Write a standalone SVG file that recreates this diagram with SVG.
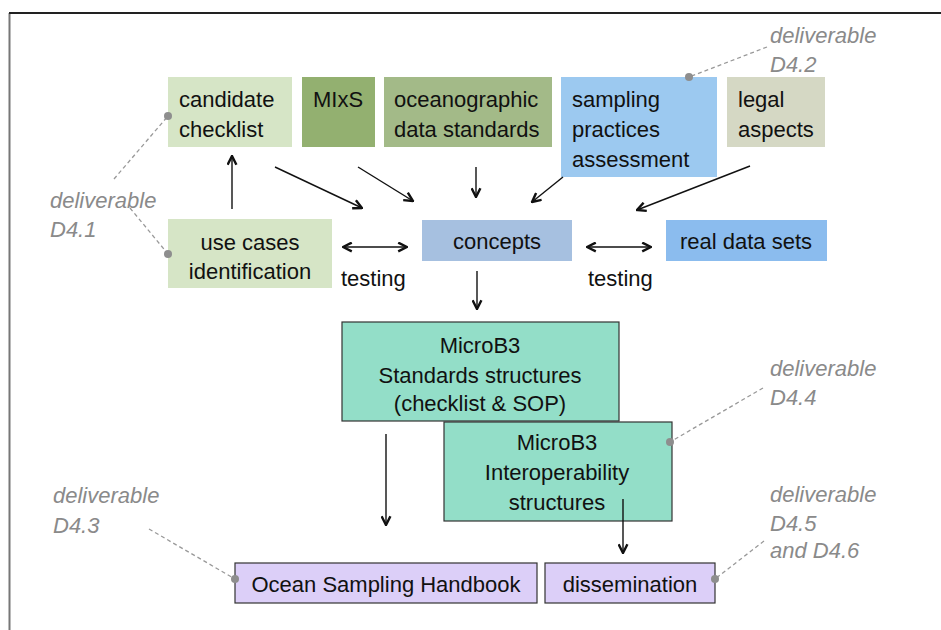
<svg xmlns="http://www.w3.org/2000/svg" width="941" height="630" viewBox="0 0 941 630">
<style>
.t{font-family:"Liberation Sans",Arial,sans-serif;font-size:22px;fill:#111}
.c{text-anchor:middle}
.d{font-family:"Liberation Sans",Arial,sans-serif;font-size:22px;font-style:italic;fill:#8a8a8a}
.e{stroke:#111;stroke-width:1.4;fill:none;marker-end:url(#ah)}
.b{stroke:#111;stroke-width:1.4;fill:none;marker-end:url(#ah);marker-start:url(#ah)}
.l{stroke:#999;stroke-width:1.3;stroke-dasharray:4 3;fill:none}
.dot{fill:#8e8e8e}
.bx{stroke:#333;stroke-width:1.2}
</style>
<defs>
<marker id="ah" viewBox="0 0 10 10" refX="9" refY="5" markerWidth="11" markerHeight="11" markerUnits="userSpaceOnUse" orient="auto-start-reverse">
<path d="M1,1 L9,5 L1,9" fill="none" stroke="#111" stroke-width="2.2"/>
</marker>
</defs>
<rect width="941" height="630" fill="#fff"/>
<path d="M9.5,630 V13" stroke="#777" stroke-width="2" fill="none"/>
<path d="M9,13 H941" stroke="#222" stroke-width="1.8" fill="none"/>

<g id="candidate"><rect x="168" y="77" width="124" height="70" fill="#d6e5c6"/><text class="t" x="179" y="107">candidate</text><text class="t" x="179" y="137">checklist</text></g>
<g id="mixs"><rect x="302" y="77" width="73" height="70" fill="#93b070"/><text class="t" x="313" y="107">MIxS</text></g>
<g id="oceanographic"><rect x="384" y="77" width="168" height="70" fill="#a3ba88"/><text class="t" x="394" y="107">oceanographic</text><text class="t" x="394" y="137">data standards</text></g>
<g id="sampling"><rect x="561" y="77" width="156" height="100" fill="#9cc9f0"/><text class="t" x="572" y="107">sampling</text><text class="t" x="572" y="137">practices</text><text class="t" x="572" y="167">assessment</text></g>
<g id="legal"><rect x="727" y="77" width="98" height="70" fill="#d5d8c4"/><text class="t" x="738" y="107">legal</text><text class="t" x="738" y="137">aspects</text></g>

<g id="usecases"><rect x="168" y="219" width="164" height="69" fill="#d6e5c6"/><text class="t c" x="250" y="250">use cases</text><text class="t c" x="250" y="279">identification</text></g>
<g id="concepts"><rect x="422" y="220" width="150" height="41" fill="#a6c0e0"/><text class="t c" x="497" y="249">concepts</text></g>
<g id="realdata"><rect x="666" y="220" width="161" height="41" fill="#8bbcee"/><text class="t c" x="746" y="249">real data sets</text></g>

<g id="standards"><rect class="bx" x="342" y="322" width="277" height="99" fill="#93dec8"/><text class="t c" x="480" y="353">MicroB3</text><text class="t c" x="480" y="383">Standards structures</text><text class="t c" x="480" y="411">(checklist &amp; SOP)</text></g>
<g id="interop"><rect class="bx" x="444" y="422" width="228" height="99" fill="#93dec8"/><text class="t c" x="557" y="450">MicroB3</text><text class="t c" x="557" y="480">Interoperability</text><text class="t c" x="557" y="510">structures</text></g>

<g id="handbook"><rect class="bx" x="235" y="563" width="302" height="40" fill="#dccff8"/><text class="t c" x="386" y="592">Ocean Sampling Handbook</text></g>
<g id="dissemination"><rect class="bx" x="545" y="563" width="170" height="40" fill="#dccff8"/><text class="t c" x="630" y="592">dissemination</text></g>

<g id="connectors">
<path class="e" d="M232,209 V156"/>
<path class="e" d="M275,167 L362,208"/>
<path class="e" d="M358,167 L413,201"/>
<path class="e" d="M476,167 V197"/>
<path class="e" d="M563,177 L532,202"/>
<path class="e" d="M750,166 L637,210"/>
<path class="b" d="M343,247 H407"/>
<path class="b" d="M587,247 H651"/>
<path class="e" d="M477,271 V309"/>
<path class="e" d="M386,434 V525"/>
<path class="e" d="M623,499 V553"/>
<text class="t" x="341" y="286">testing</text>
<text class="t" x="588" y="286">testing</text>
</g>

<g id="deliverables">
<path class="l" d="M767,47 L689,77"/><circle class="dot" cx="689" cy="77" r="4"/>
<text class="d" x="770" y="43">deliverable</text><text class="d" x="770" y="72">D4.2</text>
<path class="l" d="M114,179 L168,116"/><circle class="dot" cx="168" cy="116" r="4"/>
<path class="l" d="M130,208 L168,254"/><circle class="dot" cx="168" cy="254" r="4"/>
<text class="d" x="50" y="208">deliverable</text><text class="d" x="50" y="237">D4.1</text>
<path class="l" d="M763,388 L670,442"/><circle class="dot" cx="670" cy="442" r="4"/>
<text class="d" x="770" y="376">deliverable</text><text class="d" x="770" y="405">D4.4</text>
<path class="l" d="M149,529 L235,579"/><circle class="dot" cx="235" cy="579" r="4"/>
<text class="d" x="53" y="503">deliverable</text><text class="d" x="53" y="533">D4.3</text>
<path class="l" d="M764,541 L715,579"/><circle class="dot" cx="715" cy="579" r="4"/>
<text class="d" x="770" y="502">deliverable</text><text class="d" x="770" y="531">D4.5</text><text class="d" x="770" y="558">and D4.6</text>
</g>
</svg>
